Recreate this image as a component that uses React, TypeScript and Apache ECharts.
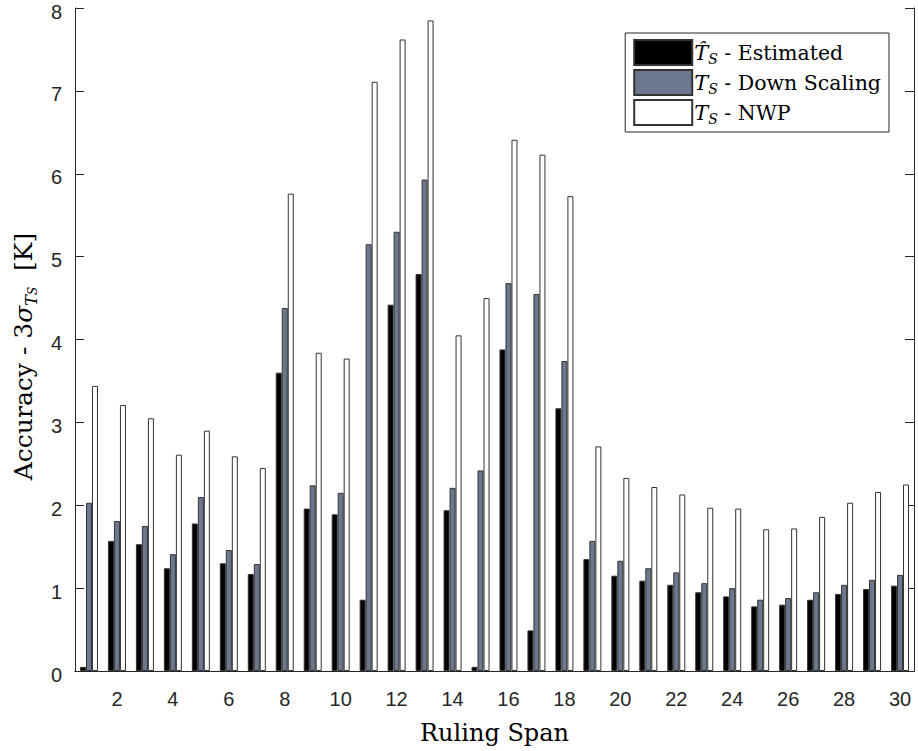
import React, { useEffect, useRef } from "react";
import * as echarts from "echarts";

const categories = Array.from({ length: 30 }, (_, i) => String(i + 1));

const estimated = [
  0.05, 1.57, 1.53, 1.24, 1.78, 1.30, 1.17, 3.60, 1.96, 1.89,
  0.86, 4.42, 4.79, 1.94, 0.05, 3.88, 0.49, 3.17, 1.35, 1.15,
  1.09, 1.04, 0.95, 0.90, 0.78, 0.80, 0.86, 0.93, 0.99, 1.03,
];
const downScaling = [
  2.03, 1.81, 1.75, 1.41, 2.10, 1.46, 1.29, 4.38, 2.24, 2.15,
  5.15, 5.30, 5.93, 2.21, 2.42, 4.68, 4.55, 3.74, 1.57, 1.33,
  1.24, 1.19, 1.06, 1.00, 0.86, 0.88, 0.95, 1.04, 1.10, 1.16,
];
const nwp = [
  3.44, 3.21, 3.05, 2.61, 2.90, 2.59, 2.45, 5.76, 3.84, 3.77,
  7.11, 7.62, 7.85, 4.05, 4.50, 6.41, 6.23, 5.73, 2.71, 2.33,
  2.22, 2.13, 1.97, 1.96, 1.71, 1.72, 1.86, 2.03, 2.16, 2.25,
];

const seriesNames = ["Estimated", "Down Scaling", "NWP"];
const legendLabels: Record<string, string> = {
  Estimated: "{t|T\u0302}{s|S}{n| - Estimated}",
  "Down Scaling": "{t|T}{s|S}{n| - Down Scaling}",
  NWP: "{t|T}{s|S}{n| - NWP}",
};

const AXIS = "#262626";
const EDGE = "#333333";
const SERIF = "'DejaVu Serif', serif";
const SANS = "'Liberation Sans', Arial, sans-serif";

export default function App() {
  const ref = useRef<HTMLDivElement>(null);
  useEffect(() => {
    if (!ref.current) return;
    const chart = echarts.init(ref.current, undefined, { renderer: "svg" });
    const showEven = (i: number) => (i + 1) % 2 === 0;
    const legendRich = {
      t: { fontFamily: SERIF, fontStyle: "italic", fontSize: 21, color: "#000", lineHeight: 26, verticalAlign: "middle" },
      s: { fontFamily: SERIF, fontStyle: "italic", fontSize: 14, color: "#000", lineHeight: 26, verticalAlign: "bottom" },
      n: { fontFamily: SERIF, fontSize: 20.5, color: "#000", lineHeight: 26, verticalAlign: "middle" },
    };
    chart.setOption({
      animation: false,
      backgroundColor: "#fff",
      grid: { left: 75, right: 4, top: 8, bottom: 80, containLabel: false, outerBoundsMode: "none" },
      legend: {
        data: seriesNames,
        orient: "vertical",
        right: 29,
        top: 33,
        itemWidth: 58,
        itemHeight: 25,
        itemGap: 3,
        padding: [6, 8, 6, 8],
        backgroundColor: "#fff",
        borderColor: AXIS,
        borderWidth: 1,
        borderRadius: 0,
        icon: "rect",
        selectedMode: false,
        formatter: (name: string) => legendLabels[name],
        textStyle: { fontFamily: SERIF, fontSize: 20, color: "#000", padding: [0, 0, 0, -3], rich: legendRich },
      },
      xAxis: [
        {
          type: "category",
          data: categories,
          position: "bottom",
          boundaryGap: true,
          name: "Ruling Span",
          nameLocation: "middle",
          nameGap: 50,
          nameTextStyle: { fontFamily: SERIF, fontSize: 24, color: "#000" },
          axisLine: { lineStyle: { color: AXIS, width: 1 } },
          axisTick: { inside: true, length: 9, alignWithLabel: true, interval: (i: number) => showEven(i), lineStyle: { color: AXIS } },
          axisLabel: { interval: (i: number) => showEven(i), margin: 18, fontFamily: SANS, fontSize: 20, color: AXIS },
          splitLine: { show: false },
        },
        {
          type: "category",
          data: categories,
          position: "top",
          boundaryGap: true,
          axisLine: { lineStyle: { color: AXIS, width: 1 } },
          axisTick: { inside: true, length: 9, alignWithLabel: true, interval: (i: number) => showEven(i), lineStyle: { color: AXIS } },
          axisLabel: { show: false },
          splitLine: { show: false },
        },
      ],
      yAxis: [
        {
          type: "value",
          min: 0,
          max: 8,
          interval: 1,
          position: "left",
          name: "{n|Accuracy - 3}{g|\u03c3}{s|T}{ss|S}{n|  [K]}",
          nameLocation: "middle",
          nameGap: 36,
          nameRotate: 90,
          nameTextStyle: {
            fontFamily: SERIF,
            fontSize: 25,
            color: "#000",
            padding: [0, 34, 0, 0],
            rich: {
              n: { fontFamily: SERIF, fontSize: 25, color: "#000", lineHeight: 32, verticalAlign: "middle" },
              g: { fontFamily: SERIF, fontStyle: "italic", fontSize: 25, color: "#000", lineHeight: 32, verticalAlign: "middle" },
              s: { fontFamily: SERIF, fontStyle: "italic", fontSize: 16, color: "#000", lineHeight: 32, verticalAlign: "bottom" },
              ss: { fontFamily: SERIF, fontStyle: "italic", fontSize: 12, color: "#000", lineHeight: 28, verticalAlign: "bottom" },
            },
          },
          axisLine: { show: true, lineStyle: { color: AXIS, width: 1 } },
          axisTick: { show: true, inside: true, length: 9, lineStyle: { color: AXIS } },
          axisLabel: {
            margin: 13,
            fontFamily: SANS,
            fontSize: 20,
            color: AXIS,
            formatter: "{v|{value}}",
            rich: { v: { fontFamily: SANS, fontSize: 20, color: AXIS, padding: [7, 0, 0, 0] } },
          },
          splitLine: { show: false },
        },
        {
          type: "value",
          min: 0,
          max: 8,
          interval: 1,
          position: "right",
          axisLine: { show: true, lineStyle: { color: AXIS, width: 1 } },
          axisTick: { show: true, inside: true, length: 9, lineStyle: { color: AXIS } },
          axisLabel: { show: false },
          splitLine: { show: false },
        },
      ],
      series: [
        {
          name: "Estimated",
          type: "bar",
          xAxisIndex: 0,
          yAxisIndex: 0,
          data: estimated,
          barWidth: 6,
          barGap: "0%",
          itemStyle: { color: "#000000", borderColor: EDGE, borderWidth: 1 },
        },
        {
          name: "Down Scaling",
          type: "bar",
          xAxisIndex: 0,
          yAxisIndex: 0,
          data: downScaling,
          barWidth: 6,
          barGap: "0%",
          itemStyle: { color: "#6b788e", borderColor: EDGE, borderWidth: 1 },
        },
        {
          name: "NWP",
          type: "bar",
          xAxisIndex: 0,
          yAxisIndex: 0,
          data: nwp,
          barWidth: 6,
          barGap: "0%",
          itemStyle: { color: "#ffffff", borderColor: EDGE, borderWidth: 1 },
        },
      ],
    });
    return () => chart.dispose();
  }, []);
  return <div ref={ref} style={{ width: 918, height: 751, position: "absolute", left: 0, top: 0 }} />;
}
